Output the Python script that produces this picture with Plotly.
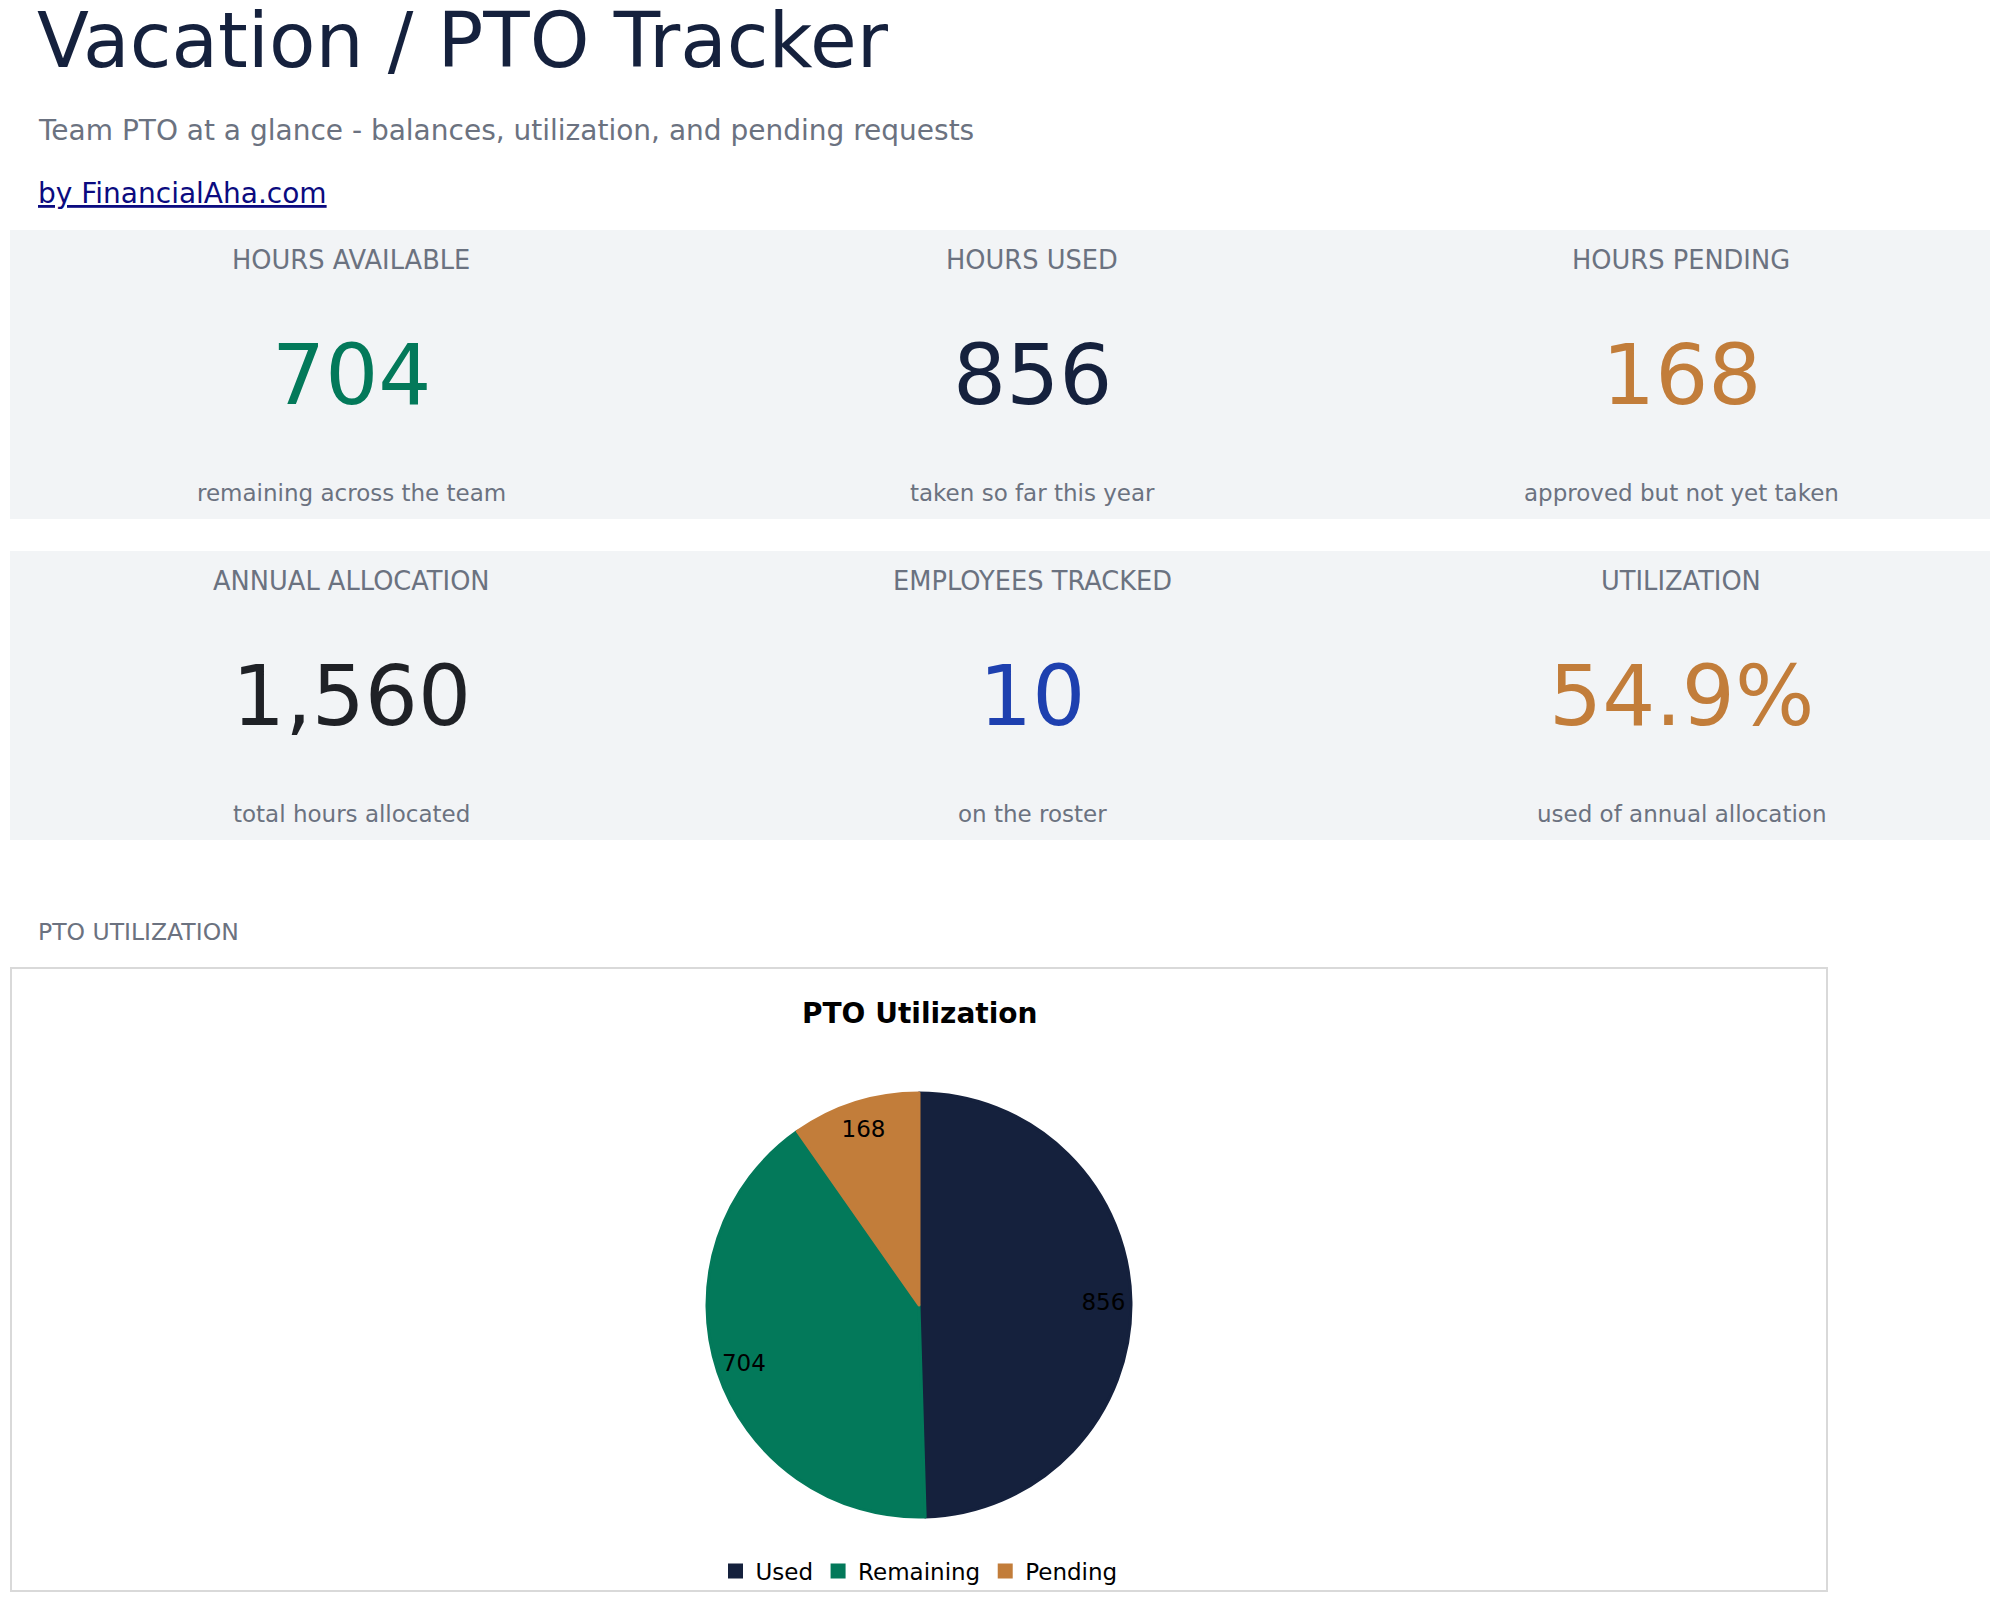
import plotly.graph_objects as go

# ----------------------------------------------------------------------
#  Data
# ----------------------------------------------------------------------

slice_labels = ["Used", "Remaining", "Pending"]
slice_hours = [856, 704, 168]
slice_colors = ["#15213d", "#03795a", "#c27d3a"]

kpi_titles = ["HOURS AVAILABLE", "HOURS USED", "HOURS PENDING",
              "ANNUAL ALLOCATION", "EMPLOYEES TRACKED", "UTILIZATION"]
kpi_values = ["704", "856", "168", "1,560", "10", "54.9%"]
kpi_notes = ["remaining across the team", "taken so far this year",
             "approved but not yet taken", "total hours allocated",
             "on the roster", "used of annual allocation"]
kpi_colors = ["#03795a", "#15213d", "#c27d3a", "#1f2126", "#1e40af", "#c27d3a"]

W, H = 2000, 1603
OFF = 8  # the page body margin pushes the figure 8px right and down
FONT = "DejaVu Sans"
GREY = "#6b7280"
LINK = "#0b0b80"


def px(x):
    return (x - OFF) / W


def py(y):
    return 1 - (y - OFF) / H


def note(text, x, y, size, color, anchor="center"):
    return dict(text=text, x=px(x), y=py(y), xref="paper", yref="paper",
                xanchor=anchor, yanchor="middle", showarrow=False,
                font=dict(family=FONT, size=size, color=color))


pie_domain = dict(x=[px(707), px(1131)], y=[py(1517), py(1093)])

fig = go.Figure()

# slices
fig.add_trace(go.Pie(
    labels=slice_labels,
    values=slice_hours,
    marker=dict(colors=slice_colors, line=dict(color=slice_colors, width=3)),
    sort=False,
    direction="clockwise",
    rotation=0,
    textinfo="none",
    domain=pie_domain,
    hoverinfo="label+value"
))

# value labels, sitting near the rim like the original
fig.add_trace(go.Pie(
    labels=slice_labels,
    values=slice_hours,
    hole=0.74,
    marker=dict(colors=["rgba(0,0,0,0)"] * 3, line=dict(width=0)),
    sort=False,
    direction="clockwise",
    rotation=0,
    textinfo="value",
    textposition="inside",
    insidetextorientation="horizontal",
    textfont=dict(family=FONT, size=23, color="black"),
    domain=pie_domain,
    showlegend=False,
    hoverinfo="skip"
))

shapes = []
annotations = []

# header texts
annotations.append(note("Vacation / PTO Tracker", 35, 41, 76, "#15213d", "left"))
annotations.append(note("Team PTO at a glance - balances, utilization, and pending requests",
                        36, 130, 28, GREY, "left"))
annotations.append(note("<a href='https://financialaha.com' style='color:%s'><u>by FinancialAha.com</u></a>" % LINK,
                        36, 193, 28, LINK, "left"))

# KPI cards
card_tops = [230, 551]
col_centres = [351, 1032, 1681]
for r, top in enumerate(card_tops):
    shapes.append(dict(type="rect", xref="paper", yref="paper",
                       x0=px(10), x1=px(1990), y0=py(top + 289), y1=py(top),
                       fillcolor="#f2f4f6", line=dict(width=0), layer="below"))
    for c, cx in enumerate(col_centres):
        i = r * 3 + c
        annotations.append(note(kpi_titles[i], cx, top + 30, 25.7, GREY))
        annotations.append(note(kpi_values[i], cx, top + 145, 83.5, kpi_colors[i]))
        annotations.append(note(kpi_notes[i], cx, top + 263, 23, GREY))

# chart section
annotations.append(note("PTO UTILIZATION", 36, 932, 23.5, GREY, "left"))
shapes.append(dict(type="rect", xref="paper", yref="paper",
                   x0=px(11), x1=px(1827), y0=py(1591), y1=py(968),
                   fillcolor="rgba(0,0,0,0)", line=dict(color="#d9d9d9", width=2)))
annotations.append(note("<b>PTO Utilization</b>", 919, 1014, 28, "black"))

fig.update_layout(
    width=W, height=H,
    margin=dict(l=0, r=0, t=0, b=0),
    paper_bgcolor="white",
    plot_bgcolor="white",
    shapes=shapes,
    annotations=annotations,
    showlegend=True,
    legend=dict(orientation="h", x=px(919), xanchor="center",
                y=py(1571), yanchor="middle",
                font=dict(family=FONT, size=23, color="black"),
                itemwidth=30, bgcolor="rgba(0,0,0,0)"),
    font=dict(family=FONT)
)

fig.write_html("out.html")
